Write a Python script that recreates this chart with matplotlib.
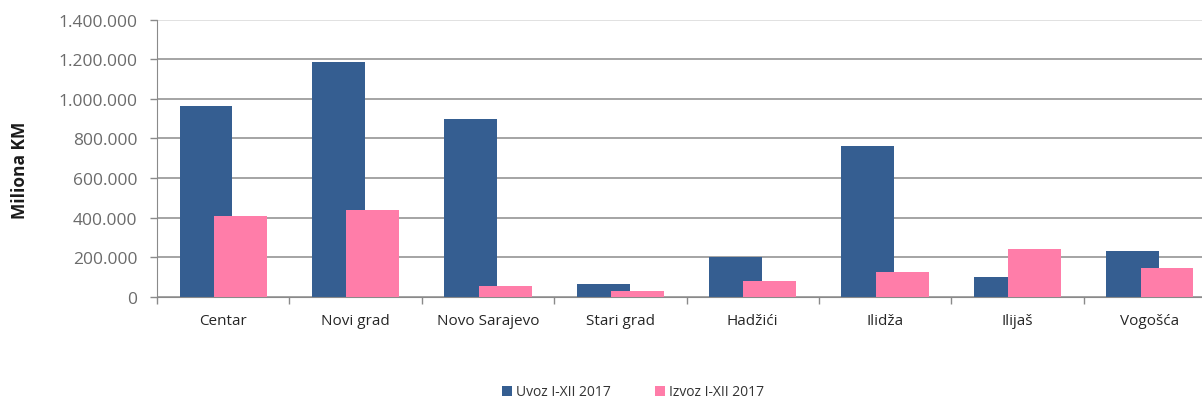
import matplotlib
matplotlib.use("Agg")
import matplotlib.pyplot as plt
from matplotlib.ticker import FuncFormatter
import numpy as np

categories = ["Centar", "Novi grad", "Novo Sarajevo", "Stari grad",
              "Hadžići", "Ilidža", "Ilijaš", "Vogošća"]
uvoz = [962000, 1187000, 898000, 63000, 199000, 760000, 98000, 232000]
izvoz = [406000, 440000, 56000, 27000, 81000, 126000, 241000, 145000]

BLUE = "#355E91"
PINK = "#FF7DA9"

plt.rcParams["font.family"] = ["Open Sans", "DejaVu Sans"]

fig = plt.figure(figsize=(12.02, 4.10), dpi=100)
ax = fig.add_axes([157 / 1202, 1 - 297.7 / 410, (1216 - 157) / 1202, 277 / 410])

x = np.arange(len(categories))
width = 0.40
offset = 0.13
ax.bar(x - offset, uvoz, width, color=BLUE, label="Uvoz I-XII 2017", zorder=2)
ax.bar(x + offset, izvoz, width, color=PINK, label="Izvoz I-XII 2017", zorder=3)

ax.set_xlim(-0.5, len(categories) - 0.5)
ax.set_ylim(0, 1400000)
ax.set_yticks(np.arange(0, 1400001, 200000))
ax.yaxis.set_major_formatter(FuncFormatter(lambda v, p: f"{int(v):,}".replace(",", ".")))
ax.tick_params(axis="y", labelsize=12.5, colors="#8a8a8a", labelcolor="#6b6b6b",
               length=5, width=1, pad=9)

ax.set_xticks(np.arange(-0.5, len(categories), 1.0))
ax.set_xticklabels([])
ax.set_xticks(x, minor=True)
ax.set_xticklabels(categories, minor=True)
ax.tick_params(axis="x", which="major", length=5, width=1, colors="#8a8a8a")
ax.tick_params(axis="x", which="minor", length=0, labelsize=11, labelcolor="#262626", pad=12)

ax.grid(axis="y", color="#8c8c8c", linewidth=1.1, zorder=0)
ax.set_axisbelow(True)
gl = ax.get_ygridlines()
gl[-1].set_color("#d9d9d9")

for s in ["top", "right"]:
    ax.spines[s].set_visible(False)
ax.spines["left"].set_color("#8a8a8a")
ax.spines["bottom"].set_color("#8a8a8a")

fig.text(20 / 1202, 1 - 170 / 410, "Miliona KM", rotation=90, fontsize=12.5,
         fontweight="bold", color="#1a1a1a", ha="center", va="center")

fig.legend(loc="center", bbox_to_anchor=(633 / 1202, 1 - 393 / 410), ncol=2,
           frameon=False, fontsize=10, handlelength=0.7, handleheight=0.7,
           handletextpad=0.3, columnspacing=3.2, labelcolor="#333333")

fig.savefig("out.png", dpi=100)
